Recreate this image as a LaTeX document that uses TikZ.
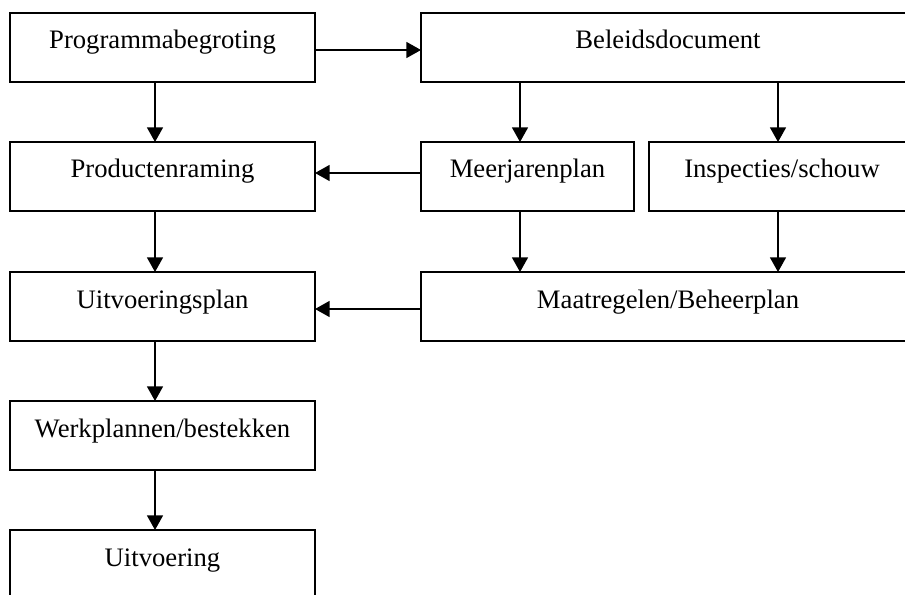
\documentclass[tikz,border=0pt]{standalone}
\usepackage{fontspec}
\setmainfont{Liberation Serif}
\usetikzlibrary{arrows.meta}
\begin{document}
\begin{tikzpicture}[x=0.75pt,y=-0.75pt,
  box/.style={draw, line width=1.3pt, inner sep=0pt, outer sep=0pt, anchor=north west,
    text height=27pt, text depth=24.75pt, minimum height=51.75pt,
    font=\fontsize{20}{24}\selectfont},
  arr/.style={line width=1.2pt, -{Triangle[length=11pt,width=12pt]}}]
\useasboundingbox (0,0) rectangle (905,595);
\clip (0,0) rectangle (905,595);
\fill[white] (0,0) rectangle (905,595);
% left column
\node[box, minimum width=228.75pt] (prog) at (10,13) {Programmabegroting};
\node[box, minimum width=228.75pt] (prod) at (10,142) {Productenraming};
\node[box, minimum width=228.75pt] (uplan) at (10,272) {Uitvoeringsplan};
\node[box, minimum width=228.75pt] (werk) at (10,401) {Werkplannen/bestekken};
\node[box, minimum width=228.75pt] (uitv) at (10,530) {Uitvoering};
% right part
\node[box, minimum width=370.5pt] (bel) at (421,13) {Beleidsdocument};
\node[box, minimum width=159.75pt] (meer) at (421,142) {Meerjarenplan};
\node[box, minimum width=199.5pt] (insp) at (649,142) {Inspecties/schouw};
\node[box, minimum width=370.5pt] (maat) at (421,272) {Maatregelen/Beheerplan};
% connector guides
\coordinate (xl) at (155,0);
\coordinate (xm) at (520,0);
\coordinate (xi) at (778,0);
\coordinate (y1) at (0,50);
\coordinate (y2) at (0,173);
\coordinate (y3) at (0,309);
% vertical arrows
\draw[arr] (prog.south -| xl) -- (prod.north -| xl);
\draw[arr] (prod.south -| xl) -- (uplan.north -| xl);
\draw[arr] (uplan.south -| xl) -- (werk.north -| xl);
\draw[arr] (werk.south -| xl) -- (uitv.north -| xl);
\draw[arr] (bel.south -| xm) -- (meer.north -| xm);
\draw[arr] (bel.south -| xi) -- (insp.north -| xi);
\draw[arr] (meer.south -| xm) -- (maat.north -| xm);
\draw[arr] (insp.south -| xi) -- (maat.north -| xi);
% horizontal arrows
\draw[arr] (prog.east |- y1) -- (bel.west |- y1);
\draw[arr] (meer.west |- y2) -- (prod.east |- y2);
\draw[arr] (maat.west |- y3) -- (uplan.east |- y3);
\end{tikzpicture}
\end{document}
